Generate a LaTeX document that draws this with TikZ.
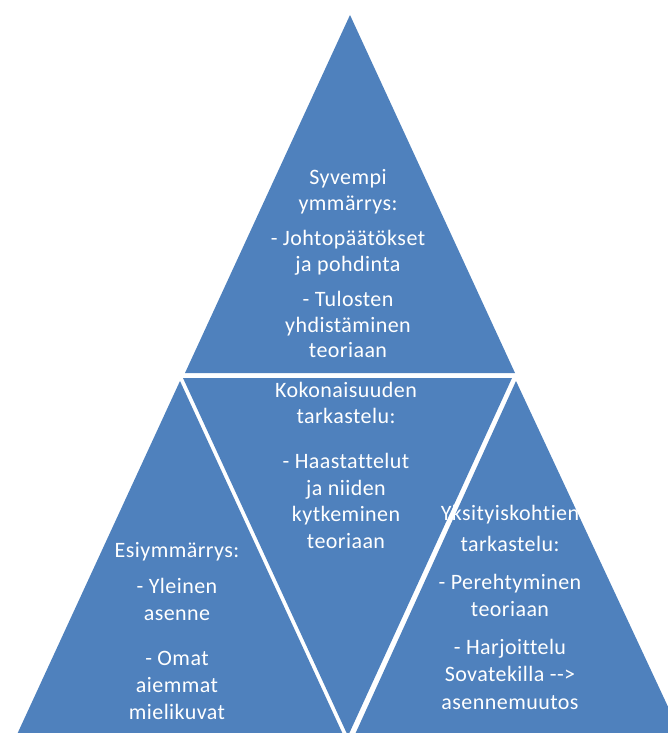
\documentclass[tikz,border=0pt]{standalone}
\usepackage{fontspec}
\setmainfont{Carlito}[Ligatures={NoCommon}, LetterSpace=2]
\usepackage{xcolor}
\definecolor{pyrblue}{HTML}{4F81BD}

\begin{document}
\begin{tikzpicture}[x=1pt, y=-1pt,
    tri/.style={fill=pyrblue},
    lbl/.style={text=white, align=center, inner sep=0pt}]
    \useasboundingbox (0,0) rectangle (667,733);
    % corners of the four triangles
    \coordinate (T1) at (350,15);
    \coordinate (T2) at (185,373);
    \coordinate (T3) at (515,373);
    \coordinate (L1) at (180,381);
    \coordinate (L2) at (14,741);
    \coordinate (L3) at (346,741);
    \coordinate (M1) at (183,378);
    \coordinate (M2) at (512,378);
    \coordinate (M3) at (348,736);
    \coordinate (R1) at (516,381);
    \coordinate (R2) at (352,741);
    \coordinate (R3) at (684,741);
    \path[tri] (T1) -- (T2) -- (T3) -- cycle;
    \path[tri] (L1) -- (L2) -- (L3) -- cycle;
    \path[tri] (M1) -- (M2) -- (M3) -- cycle;
    \path[tri] (R1) -- (R2) -- (R3) -- cycle;
    \node[lbl, font=\fontsize{22}{25.5}\selectfont] (top) at (348,264)
      {Syvempi\\ymmärrys:\\[10pt]- Johtopäätökset\\ja pohdinta\\[10pt]- Tulosten\\yhdistäminen\\teoriaan};
    \node[lbl, font=\fontsize{22}{26.5}\selectfont] (mid) at (346,465)
      {Kokonaisuuden\\tarkastelu:\\[18.5pt]- Haastattelut\\ja niiden\\kytkeminen\\teoriaan};
    \node[lbl, font=\fontsize{22}{27}\selectfont] (left) at (177,631)
      {Esiymmärrys:\\[9pt]- Yleinen\\asenne\\[18pt]- Omat\\aiemmat\\mielikuvat};
    \node[lbl, font=\fontsize{22}{27.5}\selectfont] (right) at (510,607)
      {Yksityiskohtien\\[4pt]tarkastelu:\\[10pt]- Perehtyminen\\teoriaan\\[10pt]- Harjoittelu\\Sovatekilla {-}{-}>\\asennemuutos};
\end{tikzpicture}
\end{document}
